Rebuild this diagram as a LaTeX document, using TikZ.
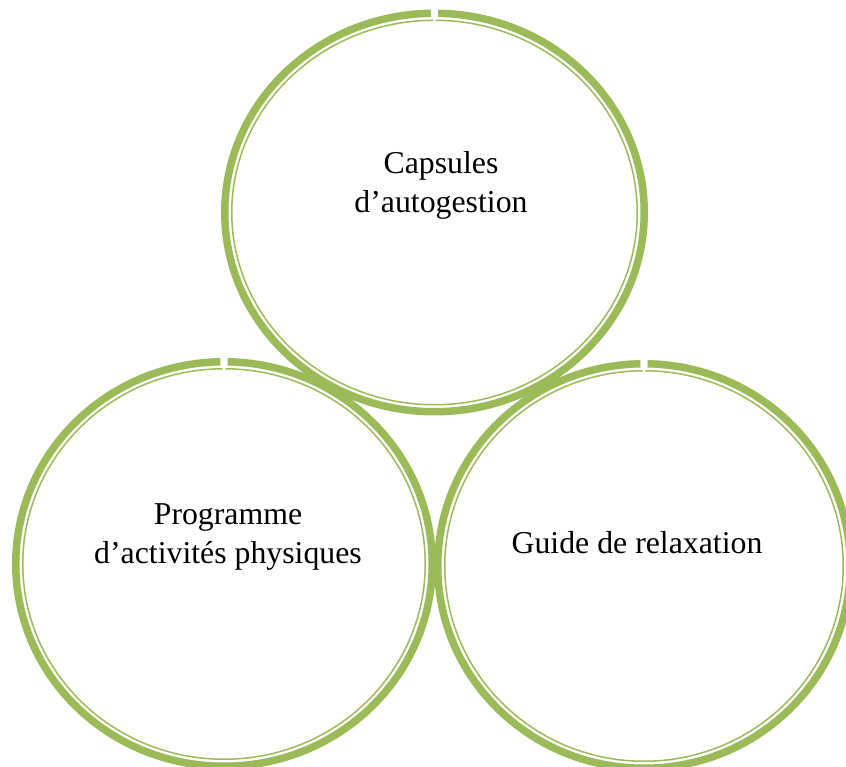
\documentclass[tikz,border=0pt]{standalone}
\usepackage{fontspec}
\setmainfont{Liberation Serif}
\definecolor{ringgreen}{RGB}{155,187,89}
\begin{document}
\begin{tikzpicture}[x=1pt,y=-1pt,
  thickring/.style={draw=ringgreen,line width=7.5pt},
  thinring/.style={draw=ringgreen,line width=1.5pt},
  label/.style={font=\fontsize{31.8}{39}\selectfont,align=center,inner sep=0pt}]
\path[use as bounding box,fill=white] (0,0) rectangle (846,767);
% centres
\coordinate (ct) at (434.5,212.5);
\coordinate (cl) at (224,564);
\coordinate (cr) at (644,566);
% rings
\foreach \c/\rx/\ry in {ct/213.5/203, cl/212/206, cr/210/206}{
  \draw[thickring] (\c) ++(-89:{\rx-3.75} and {\ry-3.75})
     arc[start angle=-89,end angle=269,x radius={\rx-3.75},y radius={\ry-3.75}];
  \draw[thinring] (\c) ++(-89.6:{\rx-10.75} and {\ry-10.75})
     arc[start angle=-89.6,end angle=269.6,x radius={\rx-10.75},y radius={\ry-10.75}];
}
% labels
\node[label] (tcap) at (441,185.5) {Capsules\\d’autogestion};
\node[label] (tprog) at (228,537) {Programme\\d’activités physiques};
\node[label] (tguide) at (637,543) {Guide de relaxation};
\end{tikzpicture}
\end{document}
